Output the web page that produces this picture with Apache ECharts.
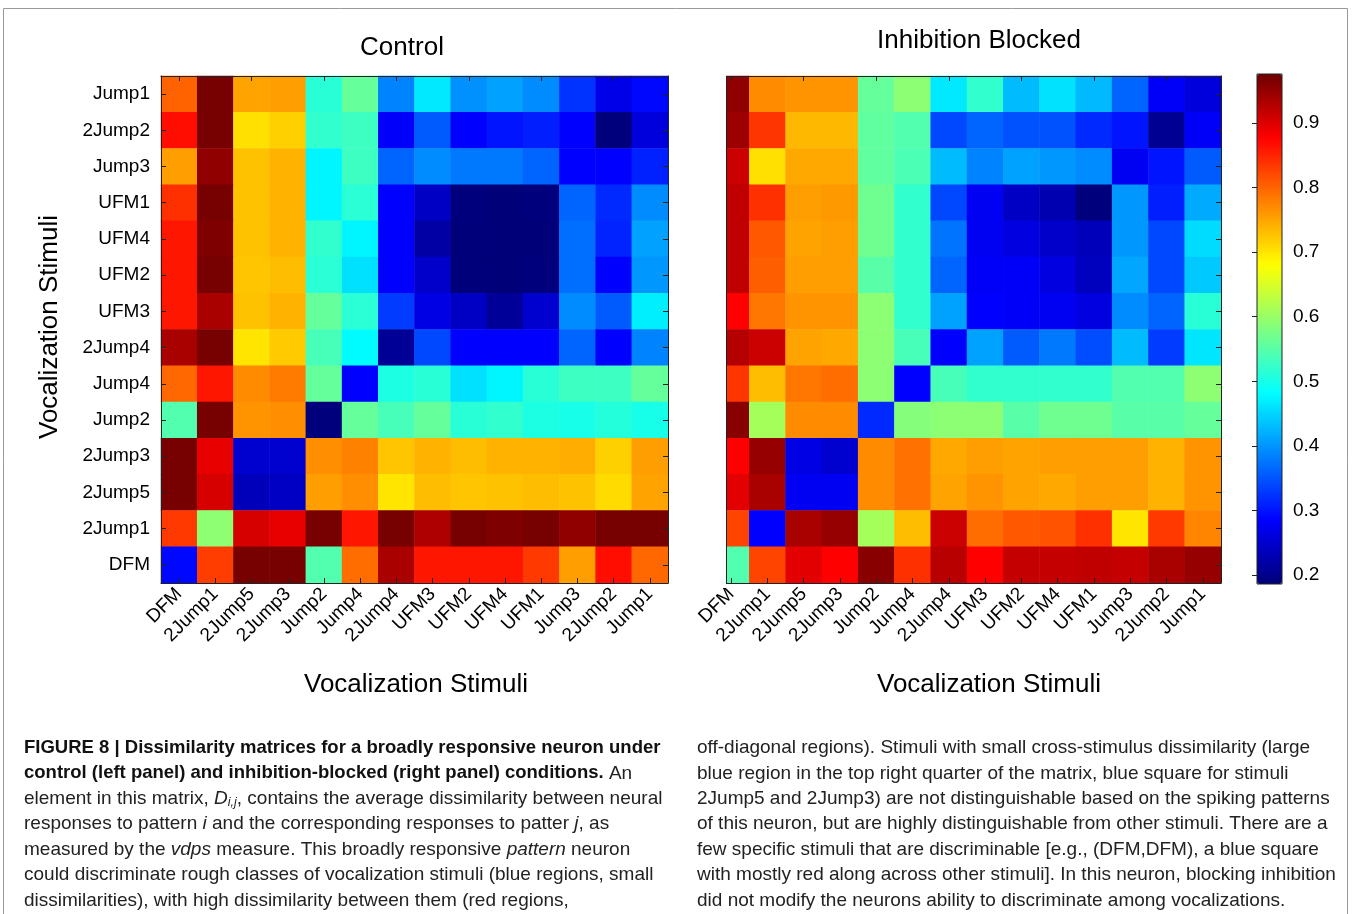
<!DOCTYPE html>
<html><head><meta charset="utf-8">
<script src="https://cdn.jsdelivr.net/npm/echarts@6/dist/echarts.min.js"></script>
<style>html,body{margin:0;padding:0;background:#fff}#c{width:1355px;height:914px}</style>
</head><body><div id="c"></div>
<script>
// Column order (left to right) == y-axis order (bottom to top)
const stimuli = ['DFM','2Jump1','2Jump5','2Jump3','Jump2','Jump4','2Jump4','UFM3','UFM2','UFM4','UFM1','Jump3','2Jump2','Jump1'];
// Row labels as displayed from top to bottom
const rowOrderTop = ['Jump1','2Jump2','Jump3','UFM1','UFM4','UFM2','UFM3','2Jump4','Jump4','Jump2','2Jump3','2Jump5','2Jump1','DFM'];

const controlRows = [
  [0.801,0.970,0.751,0.755,0.514,0.560,0.386,0.465,0.397,0.409,0.393,0.324,0.268,0.290],
  [0.867,0.970,0.704,0.716,0.520,0.530,0.282,0.355,0.285,0.300,0.308,0.285,0.190,0.260],
  [0.755,0.952,0.727,0.739,0.475,0.530,0.363,0.393,0.378,0.378,0.363,0.285,0.285,0.310],
  [0.840,0.970,0.727,0.739,0.475,0.515,0.285,0.242,0.190,0.186,0.190,0.363,0.316,0.393],
  [0.860,0.965,0.727,0.739,0.520,0.475,0.285,0.219,0.188,0.186,0.187,0.370,0.312,0.409],
  [0.860,0.970,0.724,0.731,0.515,0.459,0.285,0.246,0.188,0.187,0.190,0.370,0.285,0.401],
  [0.860,0.936,0.727,0.739,0.560,0.515,0.330,0.265,0.242,0.210,0.250,0.393,0.355,0.470],
  [0.936,0.970,0.700,0.720,0.537,0.480,0.208,0.340,0.285,0.285,0.285,0.363,0.285,0.386],
  [0.797,0.860,0.770,0.782,0.560,0.285,0.505,0.514,0.459,0.475,0.514,0.530,0.530,0.560],
  [0.545,0.970,0.763,0.767,0.190,0.560,0.537,0.560,0.514,0.520,0.505,0.500,0.510,0.500],
  [0.970,0.893,0.250,0.250,0.767,0.778,0.724,0.739,0.731,0.739,0.739,0.743,0.716,0.755],
  [0.970,0.905,0.235,0.242,0.755,0.767,0.700,0.731,0.724,0.727,0.731,0.727,0.708,0.751],
  [0.833,0.592,0.905,0.893,0.970,0.860,0.970,0.932,0.970,0.965,0.970,0.952,0.970,0.970],
  [0.290,0.830,0.970,0.970,0.545,0.793,0.936,0.860,0.860,0.860,0.833,0.755,0.867,0.797]
];

const inhibitionRows = [
  [0.952,0.770,0.763,0.763,0.560,0.590,0.465,0.520,0.430,0.460,0.428,0.363,0.280,0.260],
  [0.944,0.836,0.735,0.735,0.556,0.545,0.340,0.363,0.347,0.347,0.316,0.300,0.205,0.280],
  [0.913,0.704,0.747,0.747,0.556,0.540,0.430,0.386,0.410,0.401,0.393,0.275,0.300,0.355],
  [0.920,0.840,0.755,0.759,0.568,0.520,0.340,0.275,0.242,0.228,0.190,0.401,0.308,0.417],
  [0.920,0.809,0.751,0.755,0.568,0.520,0.374,0.275,0.262,0.246,0.235,0.401,0.340,0.455],
  [0.920,0.805,0.755,0.755,0.550,0.520,0.363,0.280,0.280,0.262,0.238,0.413,0.340,0.440],
  [0.878,0.786,0.763,0.763,0.590,0.520,0.410,0.285,0.280,0.275,0.262,0.393,0.363,0.514],
  [0.928,0.913,0.751,0.747,0.590,0.537,0.285,0.410,0.355,0.378,0.343,0.430,0.330,0.463],
  [0.836,0.731,0.786,0.793,0.590,0.285,0.537,0.520,0.520,0.520,0.520,0.545,0.545,0.592],
  [0.958,0.610,0.770,0.770,0.316,0.585,0.590,0.590,0.550,0.568,0.568,0.550,0.550,0.560],
  [0.878,0.948,0.265,0.250,0.770,0.790,0.747,0.755,0.751,0.755,0.755,0.755,0.739,0.763],
  [0.897,0.936,0.275,0.275,0.770,0.790,0.751,0.763,0.751,0.747,0.755,0.755,0.739,0.763],
  [0.825,0.285,0.936,0.948,0.610,0.731,0.913,0.793,0.809,0.813,0.840,0.700,0.833,0.775],
  [0.545,0.825,0.897,0.878,0.958,0.840,0.925,0.878,0.917,0.917,0.920,0.917,0.936,0.948]
];

const colorbarTicks = [0.2,0.3,0.4,0.5,0.6,0.7,0.8,0.9];
const valueMin = 0.186, valueMax = 0.976;
const jetColors = ['#000078','#0000ff','#0080ff','#00ffff','#80ff80','#ffff00','#ff8000','#ff0000','#6e0000'];

const panelTitles = ['Control','Inhibition Blocked'];
const axisName = 'Vocalization Stimuli';

const captionLeft = [
  '{b|FIGURE 8 | Dissimilarity matrices for a broadly responsive neuron under}',
  '{b|control (left panel) and inhibition-blocked (right panel) conditions.} An',
  'element in this matrix, {it|D}{sub|i,j}, contains the average dissimilarity between neural',
  'responses to pattern {it|i} and the corresponding responses to patter {it|j}, as',
  'measured by the {it|vdps} measure. This broadly responsive {it|pattern} neuron',
  'could discriminate rough classes of vocalization stimuli (blue regions, small',
  'dissimilarities), with high dissimilarity between them (red regions,'
];
const captionRight = [
  'off-diagonal regions). Stimuli with small cross-stimulus dissimilarity (large',
  'blue region in the top right quarter of the matrix, blue square for stimuli',
  '2Jump5 and 2Jump3) are not distinguishable based on the spiking patterns',
  'of this neuron, but are highly distinguishable from other stimuli. There are a',
  'few specific stimuli that are discriminable [e.g., (DFM,DFM), a blue square',
  'with mostly red along across other stimuli]. In this neuron, blocking inhibition',
  'did not modify the neurons ability to discriminate among vocalizations.'
];

function toCells(rows){
  const out = [];
  rows.forEach((row, r) => {
    const yi = stimuli.indexOf(rowOrderTop[r]);
    row.forEach((v, c) => out.push([c, yi, v]));
  });
  return out;
}

const FONT = 'Liberation Sans, Arial, Helvetica, sans-serif';
const LINE = '#222';

function heatAxes(gi, showLeftLabels){
  const tick = {show:true, inside:true, length:5, alignWithLabel:true, lineStyle:{color:LINE}};
  return {
    x: [
      {type:'category', data:stimuli, gridIndex:gi, position:'bottom', z:10,
       axisLine:{show:true, lineStyle:{color:LINE}}, axisTick:tick, splitLine:{show:false},
       axisLabel:{rotate:45, interval:0, fontSize:19, color:'#000', margin:8, fontFamily:FONT}},
      {type:'category', data:stimuli, gridIndex:gi, position:'top', z:10,
       axisLine:{show:true, lineStyle:{color:LINE}}, axisTick:tick, axisLabel:{show:false}, splitLine:{show:false}}
    ],
    y: [
      {type:'category', data:stimuli, gridIndex:gi, position:'left', z:10,
       axisLine:{show:true, lineStyle:{color:LINE}}, axisTick:showLeftLabels ? tick : {show:false}, splitLine:{show:false},
       axisLabel:{show:showLeftLabels, interval:0, fontSize:19, color:'#000', margin:11, fontFamily:FONT}},
      {type:'category', data:stimuli, gridIndex:gi, position:'right', z:10,
       axisLine:{show:true, lineStyle:{color:LINE}}, axisTick:tick, axisLabel:{show:false}, splitLine:{show:false}}
    ]
  };
}

const a0 = heatAxes(0, true), a1 = heatAxes(1, false);

function captionGroup(lines, x){
  return {
    type:'group', x:x, y:0, z:50,
    children: lines.map((t, i) => ({
      type:'text', x:0, y:748 + i*25.4, z:50,
      style:{text:t, fontSize:19, fontFamily:FONT, fill:'#222', verticalAlign:'middle',
        rich:{
          b:{fontWeight:'bold', fontSize:18.5, fontFamily:FONT, fill:'#111'},
          it:{fontStyle:'italic', fontSize:19, fontFamily:FONT, fill:'#222'},
          sub:{fontStyle:'italic', fontSize:12.5, fontFamily:FONT, fill:'#222', padding:[8,0,0,0]}
        }}
    }))
  };
}

const chart = echarts.init(document.getElementById('c'), null, {renderer:'canvas'});
chart.setOption({
  backgroundColor:'#fff',
  animation:false,
  grid:[
    {left:161, top:76, width:507, height:507, show:false},
    {left:713, top:76, width:508, height:507, show:false},
    {left:1257, top:74, width:25, height:510, show:true, borderColor:LINE, borderWidth:1, backgroundColor:'transparent', z:10}
  ],
  xAxis: a0.x.concat(a1.x).concat([
    {type:'value', gridIndex:2, min:0, max:1, show:false}
  ]),
  yAxis: a0.y.concat(a1.y).concat([
    {type:'value', gridIndex:2, min:valueMin, max:valueMax, position:'right', z:11,
     axisLine:{show:false}, splitLine:{show:false},
     axisTick:{show:true, inside:true, length:5, customValues:colorbarTicks, lineStyle:{color:LINE}},
     axisLabel:{show:true, customValues:colorbarTicks, fontSize:19, color:'#000', margin:11, fontFamily:FONT,
       formatter: v => Number(v).toFixed(1)}}
  ]),
  visualMap:{
    type:'continuous', min:valueMin, max:valueMax, seriesIndex:[0,1],
    inRange:{color:jetColors}, calculable:false, hoverLink:false,
    left:1257, top:74, itemWidth:25, itemHeight:510, padding:0, text:null, show:true,
    textStyle:{fontSize:0}
  },
  series:[
    {type:'heatmap', xAxisIndex:0, yAxisIndex:0, data:toCells(controlRows), itemStyle:{borderWidth:0}, emphasis:{disabled:true}},
    {type:'heatmap', xAxisIndex:2, yAxisIndex:2, data:toCells(inhibitionRows), itemStyle:{borderWidth:0}, emphasis:{disabled:true}}
  ],
  graphic:[
    {type:'rect', z:1, silent:true, shape:{x:3.5, y:8.5, width:1344, height:940}, style:{fill:'none', stroke:'#999', lineWidth:1}},
    {type:'rect', z:100, silent:true, shape:{x:698, y:66, width:28, height:522}, style:{fill:'#fff'}},
    {type:'line', z:101, silent:true, shape:{x1:726.5, y1:76, x2:726.5, y2:583}, style:{stroke:LINE, lineWidth:1}},
    {type:'text', z:50, x:402, y:48, style:{text:panelTitles[0], fontSize:26, fontFamily:FONT, fill:'#000', align:'center', verticalAlign:'middle'}},
    {type:'text', z:50, x:979, y:41, style:{text:panelTitles[1], fontSize:26, fontFamily:FONT, fill:'#000', align:'center', verticalAlign:'middle'}},
    {type:'text', z:50, x:416, y:685, style:{text:axisName, fontSize:26, fontFamily:FONT, fill:'#000', align:'center', verticalAlign:'middle'}},
    {type:'text', z:50, x:989, y:685, style:{text:axisName, fontSize:26, fontFamily:FONT, fill:'#000', align:'center', verticalAlign:'middle'}},
    {type:'text', z:50, x:50, y:327, rotation:Math.PI/2, style:{text:axisName, fontSize:26, fontFamily:FONT, fill:'#000', align:'center', verticalAlign:'middle'}},
    captionGroup(captionLeft, 24),
    captionGroup(captionRight, 697)
  ]
});
</script></body></html>
